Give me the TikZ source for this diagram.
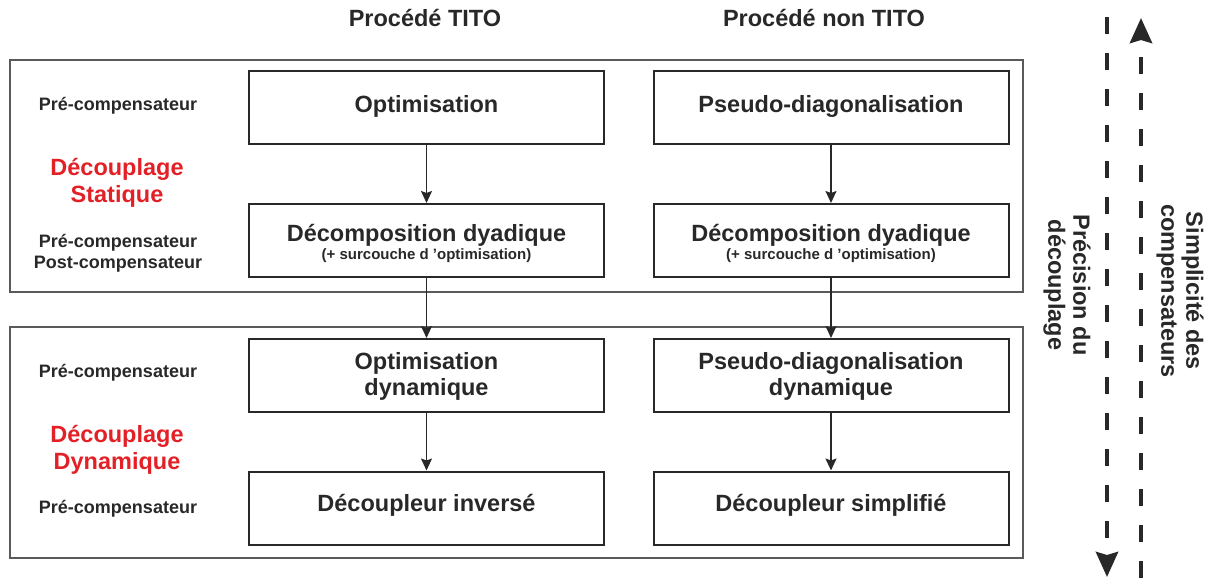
\documentclass[tikz,border=0pt]{standalone}
\usepackage{fontspec}
\setmainfont{Liberation Sans}
\usetikzlibrary{arrows.meta}
\definecolor{txt}{RGB}{40,40,40}
\definecolor{redt}{RGB}{226,32,38}
\definecolor{frame}{RGB}{90,90,90}
\begin{document}
\begin{tikzpicture}[x=1pt,y=-1pt,
  box/.style={draw=txt, line width=2pt, minimum width=355pt, minimum height=73pt, inner sep=0pt},
  bt/.style={anchor=base, inner sep=0pt, font=\fontsize{23.5}{27}\selectfont\bfseries, text=txt},
  st/.style={anchor=base, inner sep=0pt, font=\fontsize{15}{17}\selectfont\bfseries, text=txt},
  outer/.style={draw=frame, line width=1.3pt, minimum width=1013pt, inner sep=0pt},
  lab/.style={font=\fontsize{18}{21}\selectfont\bfseries, text=txt, align=center},
  cat/.style={font=\fontsize{23.5}{26.5}\selectfont\bfseries, text=redt, align=center},
  ttl/.style={font=\fontsize{23.5}{26}\selectfont\bfseries, text=txt},
  conn/.style={draw=txt, line width=1.5pt, -{Stealth[length=12pt,width=11pt,inset=2pt]}},
  big/.style={draw=txt, line width=4.5pt, dash pattern=on 17pt off 19pt, -{Stealth[length=25pt,width=22pt,inset=3pt]}},
  side/.style={font=\fontsize{23.5}{25}\selectfont\bfseries, text=txt, align=center, rotate=-90}
]
\useasboundingbox (0,0) rectangle (1213,578);

% titles
\node[ttl] (t1) at (425,18) {Procédé TITO};
\node[ttl] (t2) at (824,18) {Procédé non TITO};

% outer frames
\node[outer, minimum height=232pt] (F1) at (516.5,176) {};
\node[outer, minimum height=231pt] (F2) at (516.5,442.5) {};

% boxes
\node[box] (L1) at (426.5,107.5) {};
\node[box] (R1) at (831,107.5) {};
\node[box] (L2) at (426.5,240.5) {};
\node[box] (R2) at (831,240.5) {};
\node[box] (L3) at (426.5,375.5) {};
\node[box] (R3) at (831,375.5) {};
\node[box] (L4) at (426.5,508) {};
\node[box] (R4) at (831,508) {};

% box texts
\node[bt] (L1a) at (426.5,112) {Optimisation};
\node[bt] (R1a) at (831,112) {Pseudo-diagonalisation};
\node[bt] (L2a) at (426.5,241.5) {Décomposition dyadique};
\node[st] (L2b) at (426.5,259.5) {(+ surcouche d ’optimisation)};
\node[bt] (R2a) at (831,241.5) {Décomposition dyadique};
\node[st] (R2b) at (831,259.5) {(+ surcouche d ’optimisation)};
\node[bt] (L3a) at (426.5,369) {Optimisation};
\node[bt] (L3b) at (426.5,395) {dynamique};
\node[bt] (R3a) at (831,369) {Pseudo-diagonalisation};
\node[bt] (R3b) at (831,395) {dynamique};
\node[bt] (L4a) at (426.5,511) {Découpleur inversé};
\node[bt] (R4a) at (831,511) {Découpleur simplifié};

% connectors
\draw[conn] (L1) -- (L2);
\draw[conn] (L2) -- (L3);
\draw[conn] (L3) -- (L4);
\draw[conn] (R1) -- (R2);
\draw[conn] (R2) -- (R3);
\draw[conn] (R3) -- (R4);

% left labels
\node[lab] (a1) at (118,106) {Pré-compensateur};
\node[cat] (c1) at (117,183) {Découplage\\Statique};
\node[lab] (a2) at (118,253) {Pré-compensateur\\Post-compensateur};
\node[lab] (a3) at (118,373) {Pré-compensateur};
\node[cat] (c2) at (117,450) {Découplage\\Dynamique};
\node[lab] (a4) at (118,509) {Pré-compensateur};

% side arrows
\coordinate (d1) at (1107,17);
\coordinate (d2) at (1107,577);
\coordinate (u1) at (1141,578);
\coordinate (u2) at (1141,18);
\draw[big] (d1) -- (d2);
\draw[big] (u1) -- (u2);
\node[side] (s1) at (1067,285) {Précision du\\découplage};
\node[side] (s2) at (1180,291) {Simplicité des\\compensateurs};
\end{tikzpicture}
\end{document}
